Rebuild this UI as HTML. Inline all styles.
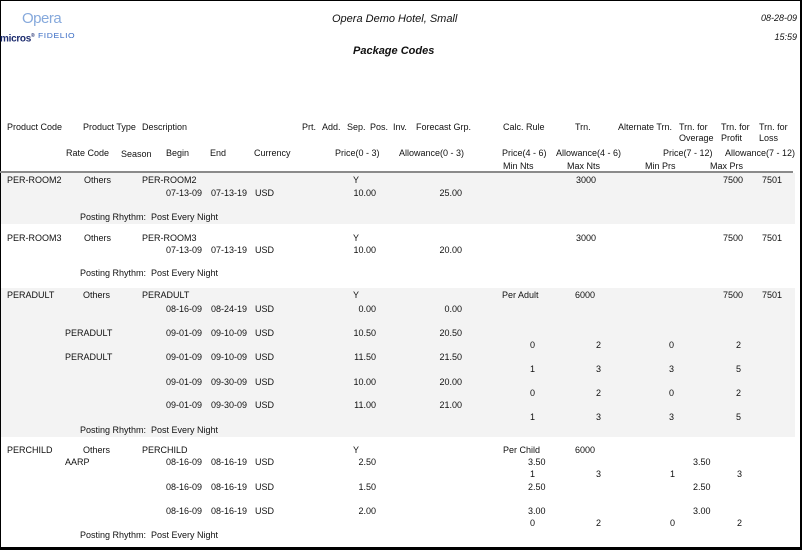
<!DOCTYPE html>
<html><head><meta charset="utf-8"><style>
html,body{margin:0;padding:0;background:#fff;}
#pg{position:relative;width:802px;height:550px;overflow:hidden;background:#fff;font-family:"Liberation Sans",Arial,sans-serif;color:#111;}
.t{position:absolute;font-size:9px;line-height:11px;white-space:nowrap;}
.r{text-align:right;}
.band{position:absolute;left:1px;width:794px;background:#f3f3f3;}
</style></head><body><div id="pg">
<!-- borders -->
<div style="position:absolute;left:0;top:0;width:802px;height:1px;background:#000"></div>
<div style="position:absolute;left:0;top:0;width:1px;height:550px;background:#000"></div>
<div style="position:absolute;left:800px;top:0;width:2px;height:550px;background:#000"></div>
<div style="position:absolute;left:0;top:547px;width:802px;height:3px;background:#000"></div>

<!-- logo -->
<div class="t" style="left:22px;top:10px;font-size:15px;line-height:17px;color:#86a9dc;letter-spacing:-0.5px;">Opera</div>
<div class="t" style="left:0px;top:30px;font-size:10px;line-height:12px;font-weight:bold;color:#1d2c6e;letter-spacing:-0.3px;">micros<sup style="font-size:5px">®</sup></div>
<div class="t" style="left:38px;top:31px;font-size:8.5px;line-height:11px;color:#3a6cc4;letter-spacing:0.6px;transform:scaleY(0.85);transform-origin:left top;">FIDELIO</div>

<!-- header -->
<div class="t" style="left:332px;top:13px;font-size:11px;line-height:13px;font-style:italic;">Opera Demo Hotel, Small</div>
<div class="t r" style="right:5px;top:13px;font-style:italic;">08-28-09</div>
<div class="t r" style="right:5px;top:32px;font-style:italic;">15:59</div>
<div class="t" style="left:353px;top:45px;font-size:11px;line-height:13px;font-style:italic;font-weight:bold;">Package Codes</div>

<!-- column headers -->
<div class="t" style="left:7px;top:122px">Product Code</div>
<div class="t" style="left:83px;top:122px">Product Type</div>
<div class="t" style="left:142px;top:122px">Description</div>
<div class="t" style="left:302px;top:122px">Prt.</div>
<div class="t" style="left:322px;top:122px">Add.</div>
<div class="t" style="left:347px;top:122px">Sep.</div>
<div class="t" style="left:370px;top:122px">Pos.</div>
<div class="t" style="left:393px;top:122px">Inv.</div>
<div class="t" style="left:416px;top:122px">Forecast Grp.</div>
<div class="t" style="left:503px;top:122px">Calc. Rule</div>
<div class="t" style="left:575px;top:122px">Trn.</div>
<div class="t" style="left:618px;top:122px">Alternate Trn.</div>
<div class="t" style="left:679px;top:122px">Trn. for</div>
<div class="t" style="left:721px;top:122px">Trn. for</div>
<div class="t" style="left:759px;top:122px">Trn. for</div>
<div class="t" style="left:679px;top:133px">Overage</div>
<div class="t" style="left:721px;top:133px">Profit</div>
<div class="t" style="left:759px;top:133px">Loss</div>

<div class="t" style="left:66px;top:148px">Rate Code</div>
<div class="t" style="left:121px;top:149px">Season</div>
<div class="t" style="left:166px;top:148px">Begin</div>
<div class="t" style="left:210px;top:148px">End</div>
<div class="t" style="left:254px;top:148px">Currency</div>
<div class="t" style="left:335px;top:148px">Price(0 - 3)</div>
<div class="t" style="left:399px;top:148px">Allowance(0 - 3)</div>
<div class="t" style="left:502px;top:148px">Price(4 - 6)</div>
<div class="t" style="left:556px;top:148px">Allowance(4 - 6)</div>
<div class="t" style="left:663px;top:148px">Price(7 - 12)</div>
<div class="t" style="left:725px;top:148px">Allowance(7 - 12)</div>

<div class="t" style="left:503px;top:161px">Min Nts</div>
<div class="t" style="left:567px;top:161px">Max Nts</div>
<div class="t" style="left:645px;top:161px">Min Prs</div>
<div class="t" style="left:710px;top:161px">Max Prs</div>

<div style="position:absolute;left:0;top:171px;width:793px;height:2px;background:#8a8a8a"></div>

<!-- bands -->
<div class="band" style="top:173px;height:51px"></div>
<div class="band" style="top:288px;height:149px"></div>

<!-- PER-ROOM2 -->
<div class="t" style="left:7px;top:175px">PER-ROOM2</div>
<div class="t" style="left:84px;top:175px">Others</div>
<div class="t" style="left:142px;top:175px">PER-ROOM2</div>
<div class="t" style="left:353px;top:175px">Y</div>
<div class="t" style="left:576px;top:175px">3000</div>
<div class="t" style="left:723px;top:175px">7500</div>
<div class="t" style="left:762px;top:175px">7501</div>
<div class="t" style="left:166px;top:188px">07-13-09</div>
<div class="t" style="left:211px;top:188px">07-13-19</div>
<div class="t" style="left:255px;top:188px">USD</div>
<div class="t r" style="right:426px;top:188px">10.00</div>
<div class="t r" style="right:340px;top:188px">25.00</div>
<div class="t" style="left:80px;top:212px">Posting Rhythm:</div>
<div class="t" style="left:151px;top:212px">Post Every Night</div>

<!-- PER-ROOM3 -->
<div class="t" style="left:7px;top:233px">PER-ROOM3</div>
<div class="t" style="left:84px;top:233px">Others</div>
<div class="t" style="left:142px;top:233px">PER-ROOM3</div>
<div class="t" style="left:353px;top:233px">Y</div>
<div class="t" style="left:576px;top:233px">3000</div>
<div class="t" style="left:723px;top:233px">7500</div>
<div class="t" style="left:762px;top:233px">7501</div>
<div class="t" style="left:166px;top:245px">07-13-09</div>
<div class="t" style="left:211px;top:245px">07-13-19</div>
<div class="t" style="left:255px;top:245px">USD</div>
<div class="t r" style="right:426px;top:245px">10.00</div>
<div class="t r" style="right:340px;top:245px">20.00</div>
<div class="t" style="left:80px;top:268px">Posting Rhythm:</div>
<div class="t" style="left:151px;top:268px">Post Every Night</div>

<!-- PERADULT -->
<div class="t" style="left:7px;top:290px">PERADULT</div>
<div class="t" style="left:83px;top:290px">Others</div>
<div class="t" style="left:142px;top:290px">PERADULT</div>
<div class="t" style="left:353px;top:290px">Y</div>
<div class="t" style="left:502px;top:290px">Per Adult</div>
<div class="t" style="left:575px;top:290px">6000</div>
<div class="t" style="left:723px;top:290px">7500</div>
<div class="t" style="left:762px;top:290px">7501</div>

<div class="t" style="left:166px;top:304px">08-16-09</div>
<div class="t" style="left:211px;top:304px">08-24-19</div>
<div class="t" style="left:255px;top:304px">USD</div>
<div class="t r" style="right:426px;top:304px">0.00</div>
<div class="t r" style="right:340px;top:304px">0.00</div>

<div class="t" style="left:65px;top:328px">PERADULT</div>
<div class="t" style="left:166px;top:328px">09-01-09</div>
<div class="t" style="left:211px;top:328px">09-10-09</div>
<div class="t" style="left:255px;top:328px">USD</div>
<div class="t r" style="right:426px;top:328px">10.50</div>
<div class="t r" style="right:340px;top:328px">20.50</div>
<div class="t" style="left:530px;top:340px">0</div>
<div class="t" style="left:596px;top:340px">2</div>
<div class="t" style="left:669px;top:340px">0</div>
<div class="t" style="left:736px;top:340px">2</div>

<div class="t" style="left:65px;top:352px">PERADULT</div>
<div class="t" style="left:166px;top:352px">09-01-09</div>
<div class="t" style="left:211px;top:352px">09-10-09</div>
<div class="t" style="left:255px;top:352px">USD</div>
<div class="t r" style="right:426px;top:352px">11.50</div>
<div class="t r" style="right:340px;top:352px">21.50</div>
<div class="t" style="left:530px;top:364px">1</div>
<div class="t" style="left:596px;top:364px">3</div>
<div class="t" style="left:669px;top:364px">3</div>
<div class="t" style="left:736px;top:364px">5</div>

<div class="t" style="left:166px;top:377px">09-01-09</div>
<div class="t" style="left:211px;top:377px">09-30-09</div>
<div class="t" style="left:255px;top:377px">USD</div>
<div class="t r" style="right:426px;top:377px">10.00</div>
<div class="t r" style="right:340px;top:377px">20.00</div>
<div class="t" style="left:530px;top:388px">0</div>
<div class="t" style="left:596px;top:388px">2</div>
<div class="t" style="left:669px;top:388px">0</div>
<div class="t" style="left:736px;top:388px">2</div>

<div class="t" style="left:166px;top:400px">09-01-09</div>
<div class="t" style="left:211px;top:400px">09-30-09</div>
<div class="t" style="left:255px;top:400px">USD</div>
<div class="t r" style="right:426px;top:400px">11.00</div>
<div class="t r" style="right:340px;top:400px">21.00</div>
<div class="t" style="left:530px;top:412px">1</div>
<div class="t" style="left:596px;top:412px">3</div>
<div class="t" style="left:669px;top:412px">3</div>
<div class="t" style="left:736px;top:412px">5</div>

<div class="t" style="left:80px;top:425px">Posting Rhythm:</div>
<div class="t" style="left:151px;top:425px">Post Every Night</div>

<!-- PERCHILD -->
<div class="t" style="left:7px;top:445px">PERCHILD</div>
<div class="t" style="left:83px;top:445px">Others</div>
<div class="t" style="left:142px;top:445px">PERCHILD</div>
<div class="t" style="left:353px;top:445px">Y</div>
<div class="t" style="left:503px;top:445px">Per Child</div>
<div class="t" style="left:575px;top:445px">6000</div>

<div class="t" style="left:65px;top:457px">AARP</div>
<div class="t" style="left:166px;top:457px">08-16-09</div>
<div class="t" style="left:211px;top:457px">08-16-19</div>
<div class="t" style="left:255px;top:457px">USD</div>
<div class="t r" style="right:426px;top:457px">2.50</div>
<div class="t" style="left:528px;top:457px">3.50</div>
<div class="t" style="left:693px;top:457px">3.50</div>
<div class="t" style="left:530px;top:469px">1</div>
<div class="t" style="left:596px;top:469px">3</div>
<div class="t" style="left:670px;top:469px">1</div>
<div class="t" style="left:737px;top:469px">3</div>

<div class="t" style="left:166px;top:482px">08-16-09</div>
<div class="t" style="left:211px;top:482px">08-16-19</div>
<div class="t" style="left:255px;top:482px">USD</div>
<div class="t r" style="right:426px;top:482px">1.50</div>
<div class="t" style="left:528px;top:482px">2.50</div>
<div class="t" style="left:693px;top:482px">2.50</div>

<div class="t" style="left:166px;top:506px">08-16-09</div>
<div class="t" style="left:211px;top:506px">08-16-19</div>
<div class="t" style="left:255px;top:506px">USD</div>
<div class="t r" style="right:426px;top:506px">2.00</div>
<div class="t" style="left:528px;top:506px">3.00</div>
<div class="t" style="left:693px;top:506px">3.00</div>
<div class="t" style="left:530px;top:518px">0</div>
<div class="t" style="left:596px;top:518px">2</div>
<div class="t" style="left:670px;top:518px">0</div>
<div class="t" style="left:737px;top:518px">2</div>

<div class="t" style="left:80px;top:530px">Posting Rhythm:</div>
<div class="t" style="left:151px;top:530px">Post Every Night</div>
</div></body></html>
